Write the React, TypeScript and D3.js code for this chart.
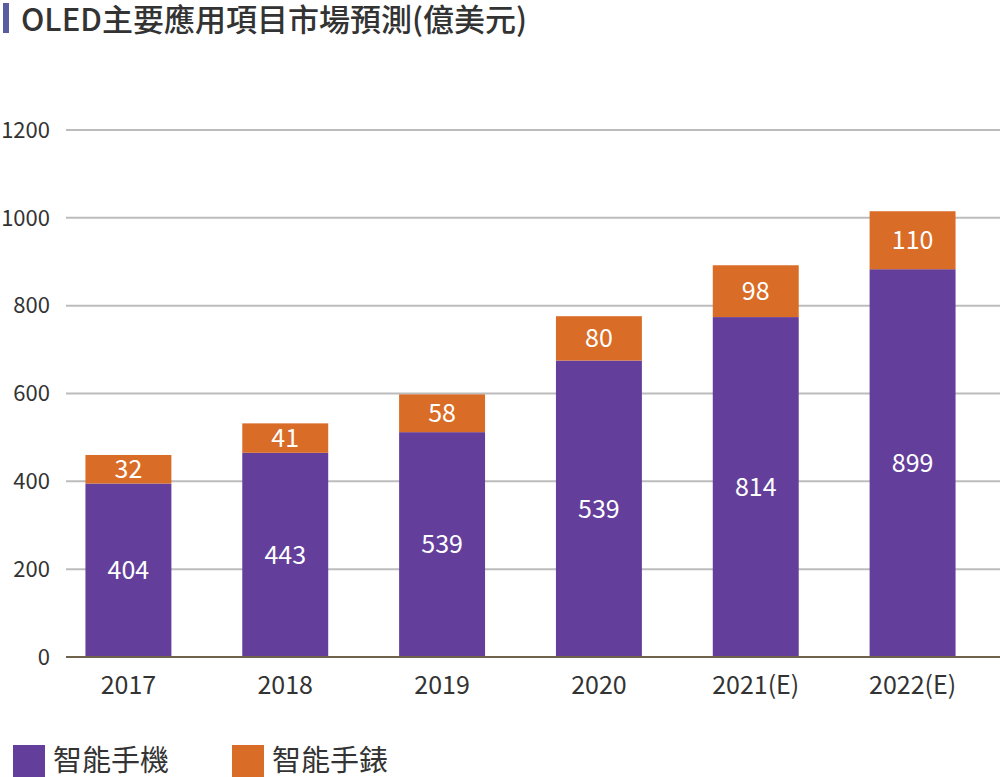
import React from 'react';
import * as d3 from 'd3';

const title = 'OLED主要應用項目市場預測(億美元)';
const categories = ['2017', '2018', '2019', '2020', '2021(E)', '2022(E)'];
// drawn bar heights (億美元)
const phoneBar = [395, 465, 512, 675, 774, 883];
const watchBar = [65, 67, 86, 101, 118, 132];
// printed labels
const phoneLabels = ['404', '443', '539', '539', '814', '899'];
const watchLabels = ['32', '41', '58', '80', '98', '110'];
const yTicks = [0, 200, 400, 600, 800, 1000, 1200];
const seriesNames = ['智能手機', '智能手錶'];
const colors = ['#633f9b', '#d96c27'];

const W = 1000;
const H = 777;
const FONT = '"Noto Sans CJK TC", "Noto Sans", sans-serif';

export default function App() {
  const x = d3.scaleBand<string>().domain(categories).range([50, 991]).paddingInner(0.452).paddingOuter(0.226);
  const y = d3.scaleLinear().domain([0, 1200]).range([657, 130]);
  const bw = x.bandwidth();

  return (
    <svg width={W} height={H} style={{ position: 'absolute', left: 0, top: 0, background: '#fff' }} fontFamily={FONT}>
      <rect x={3} y={3} width={6} height={30} fill="#5b5ba0" />
      <text x={21} y={31} fontSize={31} fill="#333" fontWeight={500}>{title}</text>

      {yTicks.filter(t => t > 0).map(t => (
        <line key={t} x1={66} x2={1000} y1={y(t)} y2={y(t)} stroke="#bcbcbc" strokeWidth={2} />
      ))}
      {yTicks.map(t => (
        <text key={'l' + t} x={50} y={y(t)} dy="0.35em" textAnchor="end" fontSize={22} fill="#333">{t}</text>
      ))}

      {categories.map((c, i) => {
        const x0 = x(c)!;
        const p = phoneBar[i];
        const w = watchBar[i];
        return (
          <g key={c}>
            <rect x={x0} y={y(p)} width={bw} height={y(0) - y(p)} fill={colors[0]} />
            <rect x={x0} y={y(p + w)} width={bw} height={y(p) - y(p + w)} fill={colors[1]} />
            <text x={x0 + bw / 2} y={(y(0) + y(p)) / 2} dy="0.35em" textAnchor="middle" fontSize={25} fill="#fff">{phoneLabels[i]}</text>
            <text x={x0 + bw / 2} y={(y(p) + y(p + w)) / 2} dy="0.35em" textAnchor="middle" fontSize={25} fill="#fff">{watchLabels[i]}</text>
            <text x={x0 + bw / 2} y={685} dy="0.35em" textAnchor="middle" fontSize={25} fill="#333">{c}</text>
          </g>
        );
      })}

      <line x1={66} x2={1000} y1={y(0)} y2={y(0)} stroke="#6f634b" strokeWidth={2} />

      {seriesNames.map((s, i) => {
        const lx = i === 0 ? 13 : 232;
        return (
          <g key={s}>
            <rect x={lx} y={745} width={32} height={32} fill={colors[i]} />
            <text x={lx + 40} y={761} dy="0.35em" fontSize={29} fill="#333">{s}</text>
          </g>
        );
      })}
    </svg>
  );
}
